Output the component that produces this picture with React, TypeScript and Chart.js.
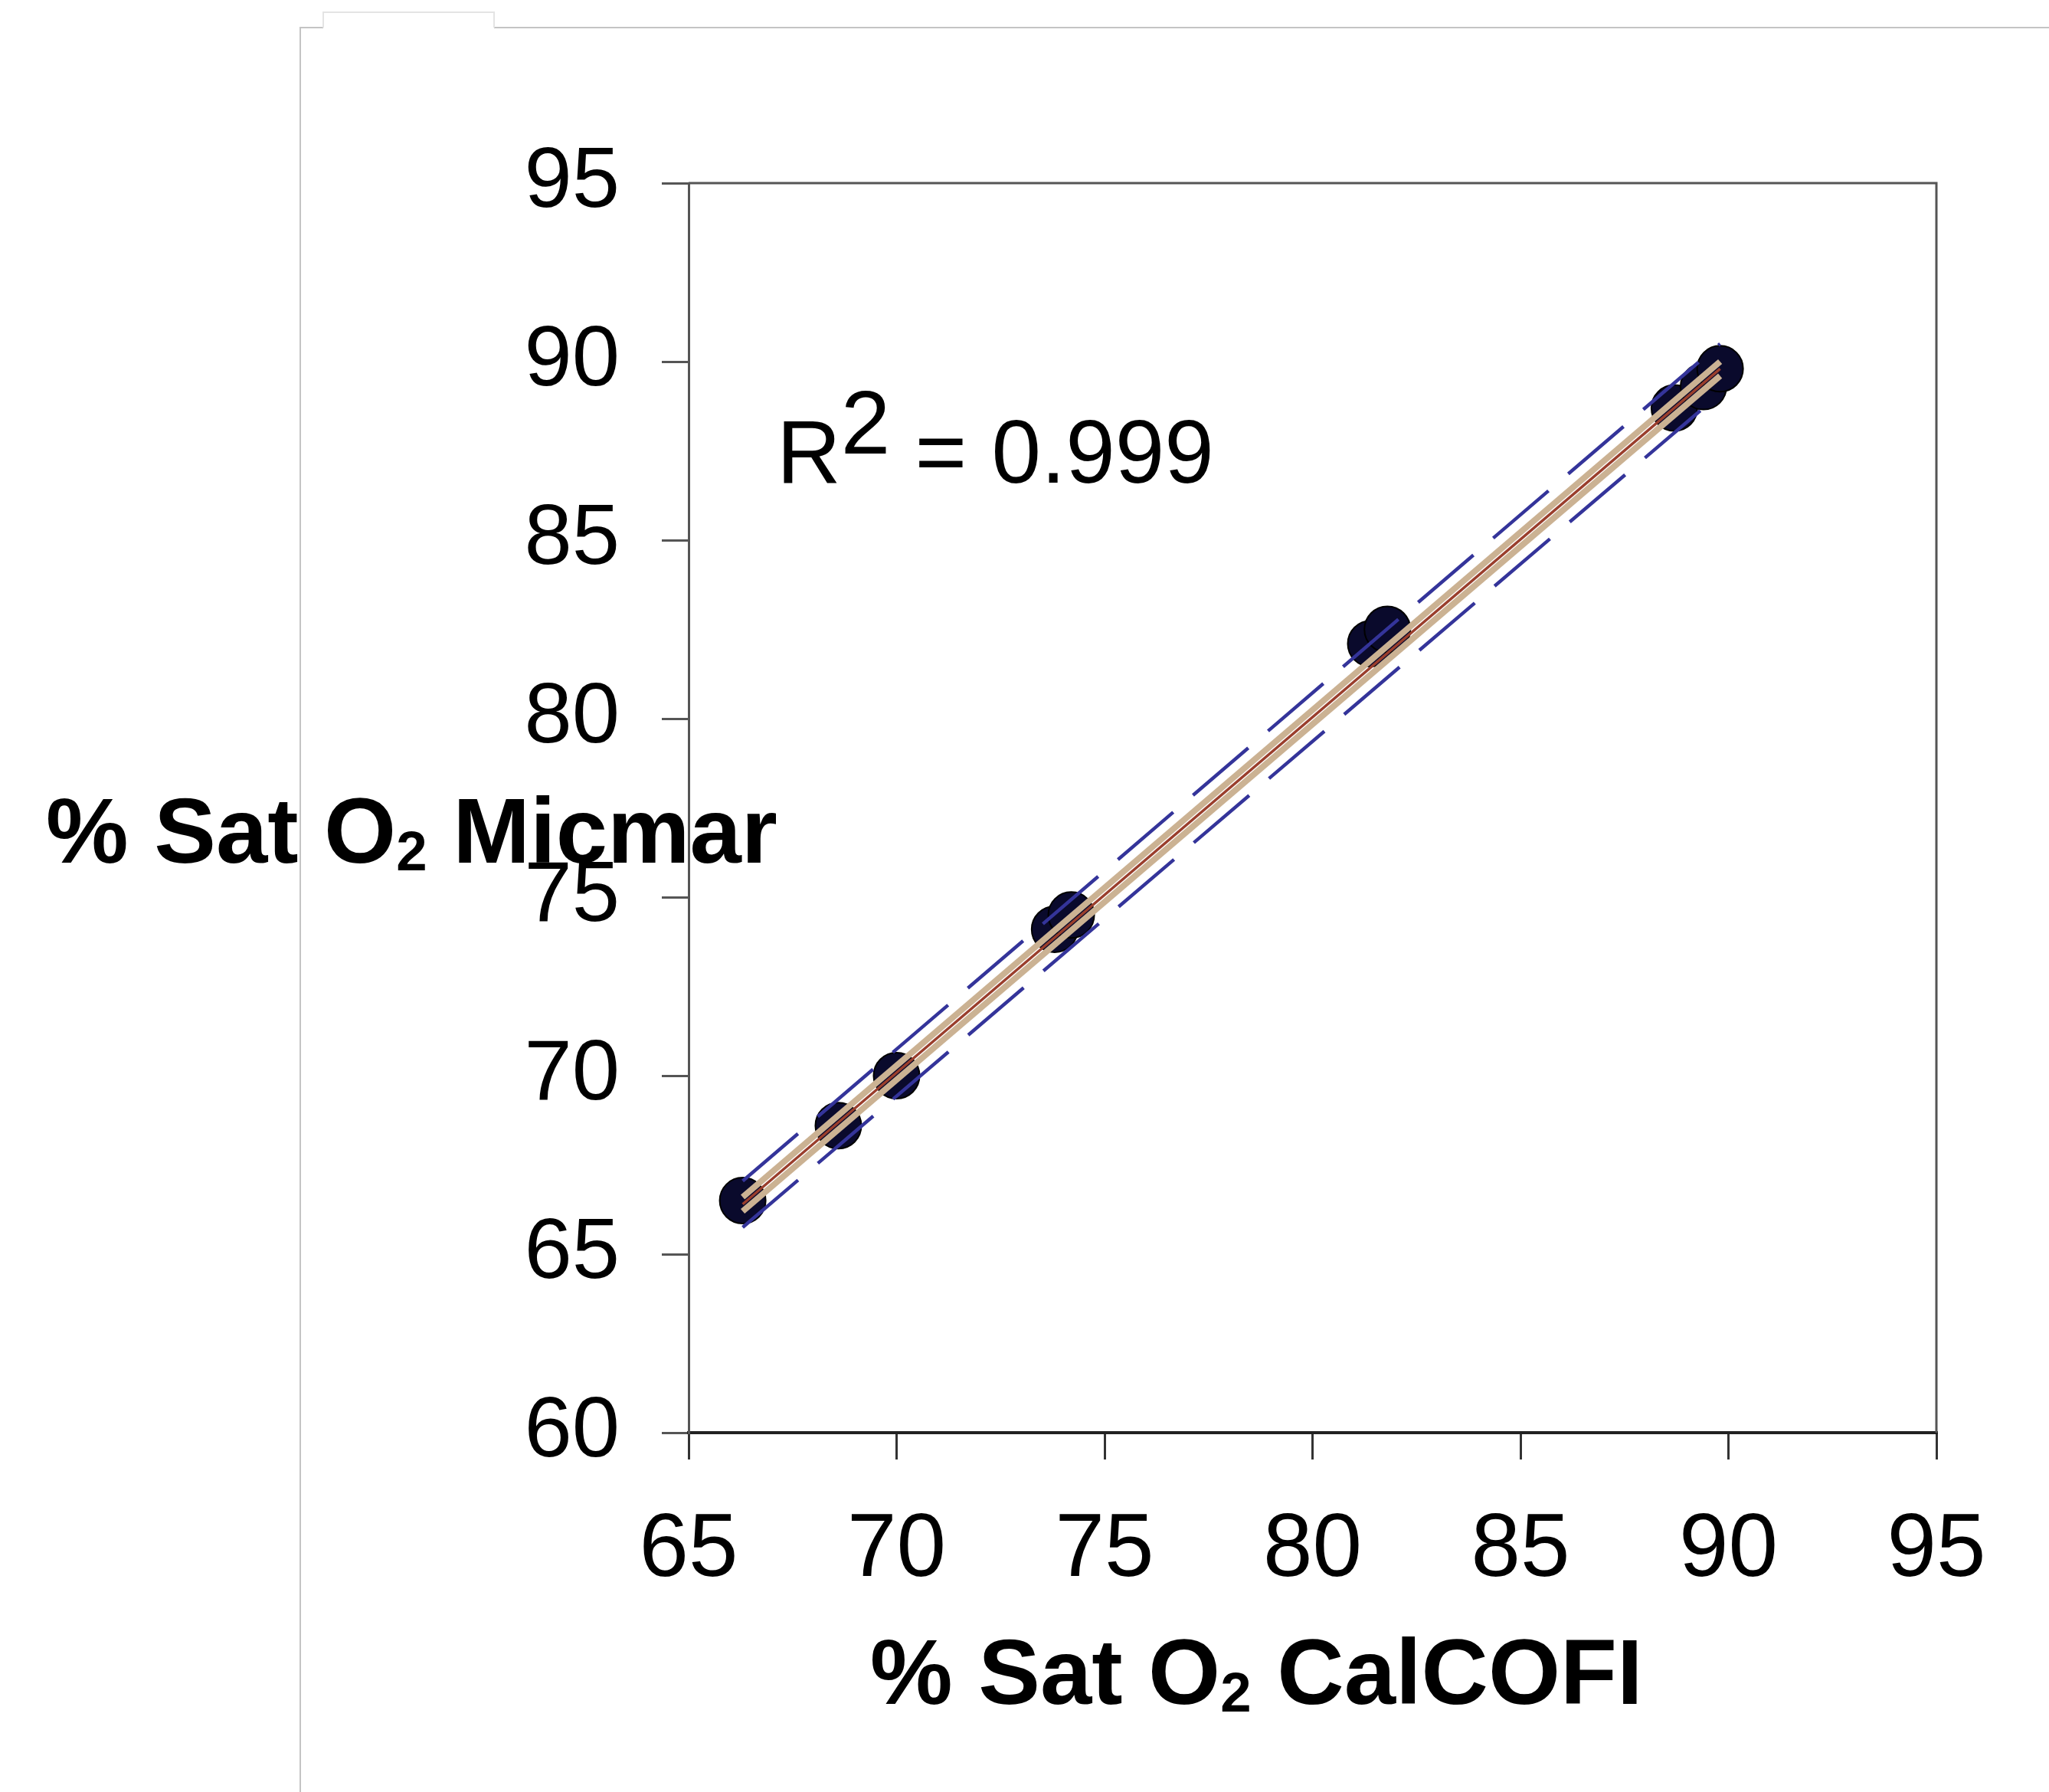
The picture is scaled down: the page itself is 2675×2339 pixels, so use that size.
import React, { useEffect, useRef } from "react";
import { Chart, registerables } from "chart.js";

Chart.register(...registerables);

// ---- data ----
const calcofiX = [66.3, 68.6, 70.0, 73.8, 74.2, 81.4, 81.8, 88.7, 89.4, 89.8];
const micmarY = [66.5, 68.6, 70.0, 74.1, 74.5, 82.1, 82.5, 88.7, 89.3, 89.8];

const fitX = [66.3, 89.8];
const fitY = [66.4, 89.8];
const ciUpperY = [66.6, 90.0];
const ciLowerY = [66.2, 89.6];
const piUpperY = [67.05, 90.5];
const piLowerY = [65.75, 89.1];

const xTicks = [65, 70, 75, 80, 85, 90, 95];
const yTicks = [60, 65, 70, 75, 80, 85, 90, 95];

const r2Text = "0.999";

const W = 2675;
const H = 2339;
const AREA = { left: 899, top: 239, right: 2528, bottom: 1870 };
const FONT = '"Liberation Sans", Arial, Helvetica, sans-serif';

const toPts = (xs: number[], ys: number[]) => xs.map((x, i) => ({ x, y: ys[i] }));

const framePlugin = {
  id: "frameDecor",
  beforeDraw(chart: any) {
    const ctx = chart.ctx;
    ctx.save();
    ctx.fillStyle = "#ffffff";
    ctx.fillRect(0, 0, W, H);
    ctx.lineWidth = 2;
    ctx.strokeStyle = "#c4c4c4";
    ctx.beginPath();
    ctx.moveTo(392, H);
    ctx.lineTo(392, 36);
    ctx.lineTo(422, 36);
    ctx.moveTo(645, 36);
    ctx.lineTo(W, 36);
    ctx.stroke();
    ctx.strokeStyle = "#e4e4e4";
    ctx.beginPath();
    ctx.moveTo(422, 36);
    ctx.lineTo(422, 16);
    ctx.lineTo(645, 16);
    ctx.lineTo(645, 36);
    ctx.stroke();
    ctx.restore();
  },
  afterDraw(chart: any) {
    const { ctx, chartArea } = chart;
    ctx.save();
    ctx.strokeStyle = "#555555";
    ctx.lineWidth = 3;
    ctx.beginPath();
    ctx.moveTo(chartArea.left, chartArea.top);
    ctx.lineTo(chartArea.right, chartArea.top);
    ctx.lineTo(chartArea.right, chartArea.bottom);
    ctx.stroke();
    ctx.restore();
  },
};

export default function App() {
  const ref = useRef<HTMLCanvasElement | null>(null);

  useEffect(() => {
    if (!ref.current) return;
    const chart = new Chart(ref.current, {
      type: "scatter",
      data: {
        datasets: [
          {
            label: "Prediction upper",
            data: toPts(fitX, piUpperY),
            showLine: true,
            borderColor: "#34349a",
            borderWidth: 4.5,
            borderDash: [95, 34],
            pointRadius: 0,
            order: 2,
          },
          {
            label: "Prediction lower",
            data: toPts(fitX, piLowerY),
            showLine: true,
            borderColor: "#34349a",
            borderWidth: 4.5,
            borderDash: [95, 34],
            pointRadius: 0,
            order: 2,
          },
          {
            label: "CI upper",
            data: toPts(fitX, ciUpperY),
            showLine: true,
            borderColor: "#cbb293",
            borderWidth: 8,
            pointRadius: 0,
            order: 1,
          },
          {
            label: "CI lower",
            data: toPts(fitX, ciLowerY),
            showLine: true,
            borderColor: "#cbb293",
            borderWidth: 8,
            pointRadius: 0,
            order: 1,
          },
          {
            label: "Regression",
            data: toPts(fitX, fitY),
            showLine: true,
            borderColor: "#9a3e2c",
            borderWidth: 3.5,
            pointRadius: 0,
            order: 0,
          },
          {
            label: "Samples",
            data: toPts(calcofiX, micmarY),
            showLine: false,
            backgroundColor: "#0a0a2c",
            borderColor: "#000000",
            borderWidth: 2,
            pointRadius: 30,
            order: 10,
          },
        ],
      },
      options: {
        responsive: false,
        animation: false,
        devicePixelRatio: 1,
        layout: {
          padding: { left: 0, top: AREA.top, right: W - AREA.right, bottom: 0 },
        },
        plugins: {
          legend: { display: false },
          tooltip: { enabled: false },
          title: { display: false },
        },
        scales: {
          x: {
            type: "linear",
            position: "bottom",
            min: 65,
            max: 95,
            afterBuildTicks: (scale: any) => {
              scale.ticks = xTicks.map((v) => ({ value: v }));
            },
            afterFit: (scale: any) => {
              scale.height = H - AREA.bottom;
            },
            ticks: {
              color: "#000000",
              font: { family: FONT, size: 116 },
              padding: 50,
              maxRotation: 0,
              autoSkip: false,
            },
            grid: {
              drawOnChartArea: false,
              drawTicks: true,
              tickLength: 35,
              color: "#333333",
              lineWidth: 3,
            },
            border: { display: true, color: "#222222", width: 4 },
          },
          y: {
            type: "linear",
            position: "left",
            min: 60,
            max: 95,
            afterBuildTicks: (scale: any) => {
              scale.ticks = yTicks.map((v) => ({ value: v }));
            },
            afterFit: (scale: any) => {
              scale.width = AREA.left;
            },
            ticks: {
              color: "#000000",
              font: { family: FONT, size: 112 },
              padding: 55,
              autoSkip: false,
            },
            grid: {
              drawOnChartArea: false,
              drawTicks: true,
              tickLength: 35,
              color: "#555555",
              lineWidth: 3,
            },
            border: { display: true, color: "#555555", width: 3 },
          },
        },
      },
      plugins: [framePlugin],
    });
    return () => chart.destroy();
  }, []);

  const titleStyle: React.CSSProperties = {
    position: "absolute",
    fontFamily: FONT,
    fontWeight: "bold",
    fontSize: 121,
    lineHeight: "121px",
    whiteSpace: "nowrap",
    color: "#000",
    margin: 0,
  };
  const subStyle: React.CSSProperties = {
    fontSize: "0.6em",
    verticalAlign: "-10px",
    lineHeight: 0,
  };

  return (
    <div style={{ position: "absolute", left: 0, top: 0, width: W, height: H, background: "#fff" }}>
      <canvas
        ref={ref}
        width={W}
        height={H}
        style={{ position: "absolute", left: 0, top: 0, width: W, height: H }}
      />
      <div style={{ ...titleStyle, left: 60, top: 1024 }}>
        % Sat O<span style={subStyle}>2</span> Micmar
      </div>
      <div style={{ ...titleStyle, left: 1136, top: 2122 }}>
        % Sat O<span style={subStyle}>2</span> CalCOFI
      </div>
      <div
        style={{
          position: "absolute",
          left: 1014,
          top: 532,
          fontFamily: FONT,
          fontSize: 116,
          lineHeight: "116px",
          whiteSpace: "nowrap",
          color: "#000",
        }}
      >
        R<span style={{ position: "relative", top: -38, lineHeight: 0 }}>2</span> = {r2Text}
      </div>
    </div>
  );
}
